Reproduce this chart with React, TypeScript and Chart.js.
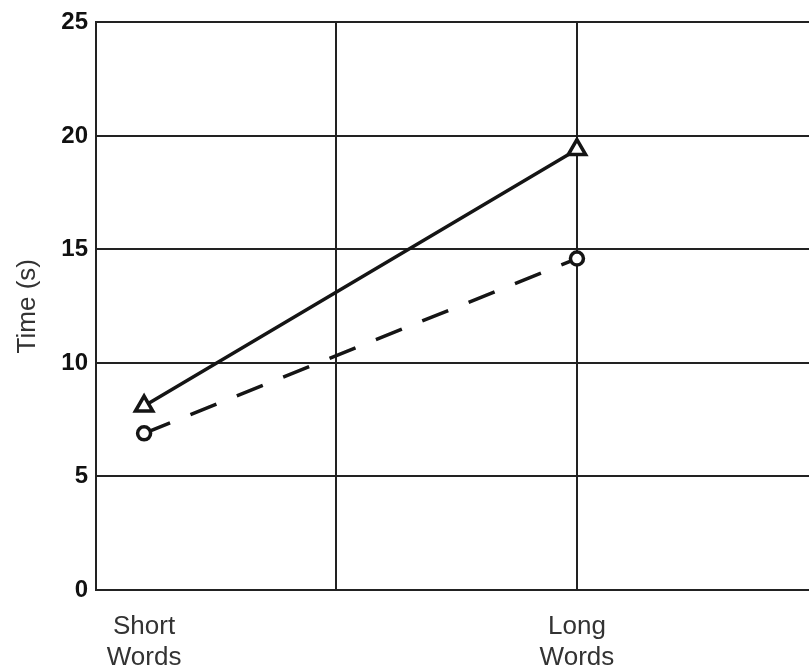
import React, { useEffect, useRef } from "react";
import { Chart, registerables } from "chart.js";

Chart.register(...registerables);

// ---- data ----
const categories = ["Short Words", "Long Words"];
const categoryX = [0.2, 2];
const gridX = [0, 1, 2];
const xMax = 2.965;
const solidSeries = [8.1, 19.4];
const dashedSeries = [6.9, 14.6];
const yMin = 0;
const yMax = 25;
const yStep = 5;
const yTitle = "Time (s)";

const FONT = "'Liberation Sans', Arial, Helvetica, sans-serif";
const LINE = "#151515";
const GRID = "#222222";

export default function App() {
  const canvasRef = useRef<HTMLCanvasElement | null>(null);

  useEffect(() => {
    const canvas = canvasRef.current;
    if (!canvas) return;
    Chart.defaults.font.family = FONT;

    const chart = new Chart(canvas, {
      type: "line",
      data: {
        datasets: [
          {
            label: "Solid",
            data: solidSeries.map((y, i) => ({ x: categoryX[i], y })),
            borderColor: LINE,
            borderWidth: 3.5,
            pointStyle: "triangle",
            pointRadius: 10,
            pointBorderWidth: 3.5,
            pointBorderColor: LINE,
            pointBackgroundColor: "#ffffff",
            tension: 0,
          },
          {
            label: "Dashed",
            data: dashedSeries.map((y, i) => ({ x: categoryX[i], y })),
            borderColor: LINE,
            borderWidth: 3.5,
            borderDash: [28, 22],
            pointStyle: "circle",
            pointRadius: 6.5,
            pointBorderWidth: 3.5,
            pointBorderColor: LINE,
            pointBackgroundColor: "#ffffff",
            tension: 0,
          },
        ],
      },
      options: {
        responsive: false,
        animation: false,
        layout: { autoPadding: false, padding: { top: 20, right: 0, bottom: 0, left: 0 } },
        plugins: {
          legend: { display: false },
          tooltip: { enabled: false },
        },
        scales: {
          x: {
            type: "linear",
            min: 0,
            max: xMax,
            afterBuildTicks: (axis: any) => {
              const vals = Array.from(new Set([...gridX, ...categoryX])).sort((a, b) => a - b);
              axis.ticks = vals.map((v) => ({ value: v }));
            },
            afterFit: (axis: any) => {
              axis.height = 80;
            },
            ticks: {
              autoSkip: false,
              maxRotation: 0,
              minRotation: 0,
              padding: 21,
              color: "#333333",
              font: { size: 26, family: FONT, lineHeight: 1.2 },
              callback: (value: any) => {
                const idx = categoryX.indexOf(Number(value));
                return idx >= 0 ? categories[idx].split(" ") : "";
              },
            },
            grid: {
              drawTicks: false,
              lineWidth: 2,
              color: (ctx: any) => {
                const v = ctx.tick ? ctx.tick.value : null;
                return v !== null && gridX.includes(v) ? GRID : "rgba(0,0,0,0)";
              },
            },
            border: { display: true, color: GRID, width: 2 },
          },
          y: {
            min: yMin,
            max: yMax,
            afterFit: (axis: any) => {
              axis.width = 96;
            },
            ticks: {
              stepSize: yStep,
              padding: 8,
              color: "#111111",
              font: { size: 24, weight: "bold", family: FONT },
            },
            grid: {
              drawTicks: false,
              lineWidth: 2,
              color: GRID,
            },
            border: { display: true, color: GRID, width: 2 },
            title: {
              display: true,
              text: yTitle,
              color: "#333333",
              font: { size: 26, family: FONT, lineHeight: 1.2 },
              padding: { top: 12, bottom: 0 },
            },
          },
        },
      },
    } as any);

    return () => {
      chart.destroy();
    };
  }, []);

  return (
    <div style={{ position: "absolute", left: 0, top: 0, width: 809, height: 670, background: "#ffffff" }}>
      <canvas ref={canvasRef} width={809} height={670} style={{ display: "block" }} />
    </div>
  );
}
